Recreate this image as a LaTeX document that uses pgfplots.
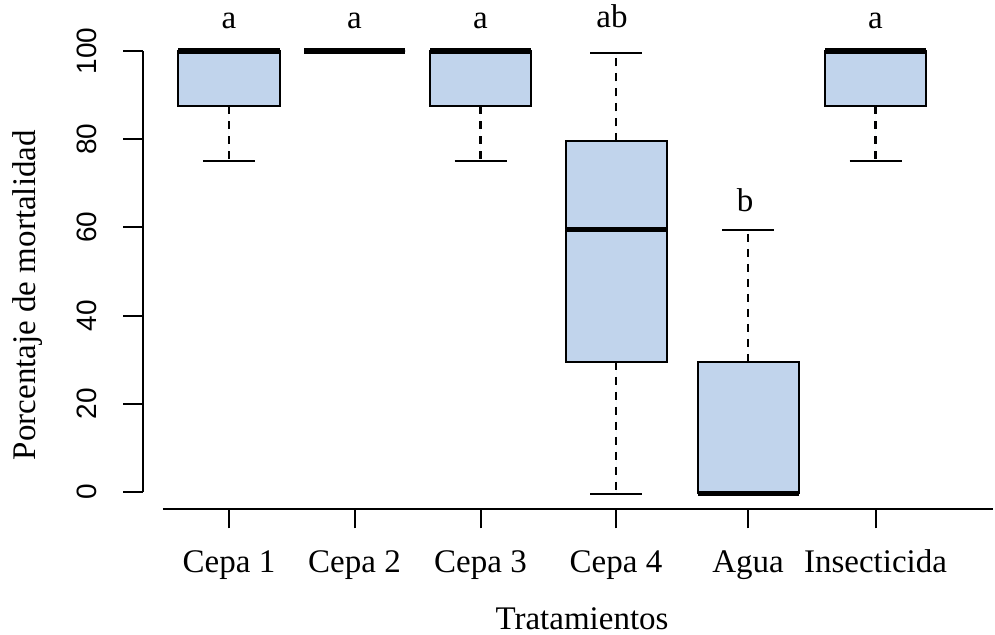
\documentclass[border=0pt]{standalone}
\usepackage{fontspec}
\setmainfont{Liberation Serif}
\newfontfamily\arialfont{Liberation Sans}
\usepackage{pgfplots}
\pgfplotsset{compat=1.18}
\usepgfplotslibrary{statistics}
\definecolor{boxfill}{RGB}{193,212,236}

\pgfplotsset{
  rbox/.style={
    draw=black, line width=1pt, fill=boxfill, solid, mark=none,
    boxplot/draw direction=y,
    boxplot/box extend=0.808,
    boxplot/whisker extend=0.416,
    boxplot/every median/.style={line width=2.6pt},
    boxplot/draw/lower whisker/.code={%
      \draw[line width=1.2pt, dash pattern=on 4pt off 3.5pt]
        (boxplot cs:\pgfplotsboxplotvalue{lower quartile}) -- (boxplot cs:\pgfplotsboxplotvalue{lower whisker});
      \draw[line width=1pt, solid]
        (boxplot whisker cs:\pgfplotsboxplotvalue{lower whisker},0) -- (boxplot whisker cs:\pgfplotsboxplotvalue{lower whisker},1);
    },
    boxplot/draw/upper whisker/.code={%
      \draw[line width=1.2pt, dash pattern=on 4pt off 3.5pt]
        (boxplot cs:\pgfplotsboxplotvalue{upper quartile}) -- (boxplot cs:\pgfplotsboxplotvalue{upper whisker});
      \draw[line width=1pt, solid]
        (boxplot whisker cs:\pgfplotsboxplotvalue{upper whisker},0) -- (boxplot whisker cs:\pgfplotsboxplotvalue{upper whisker},1);
    },
  },
}

\begin{document}
\begin{tikzpicture}
\path[use as bounding box] (-71.5pt,-63pt) rectangle (426pt,254.5pt);
\begin{axis}[
  at={(0pt,0pt)}, anchor=south west,
  scale only axis, width=425pt, height=229pt,
  xmin=-0.688, xmax=6.112, ymin=-3.85, ymax=100,
  clip=false,
  axis x line*=bottom, axis y line*=left,
  axis line style={-, line width=1pt, black},
  x axis line style={shorten <=10pt},
  y axis line style={shorten <=8.5pt},
  tick align=outside,
  major tick length=9.75pt,
  tick style={line width=1pt, black},
  xtick={0,1.004,2.012,3.096,4.152,5.172},
  xticklabels={Cepa 1,Cepa 2,Cepa 3,Cepa 4,Agua,Insecticida},
  ytick={0,20,40,60,80,100},
  yticklabels={0,20,40,60,80,100},
  xticklabel style={font=\fontsize{16.5}{19}\selectfont, anchor=base, yshift=-22pt},
  yticklabel style={font=\arialfont\fontsize{14}{16}\selectfont, rotate=90, anchor=base, yshift=13.5pt},
  xlabel={Tratamientos},
  ylabel={Porcentaje de mortalidad},
  xlabel style={font=\fontsize{16.5}{19}\selectfont, at={(axis description cs:0.5165,-0.264)}, anchor=base},
  ylabel style={font=\fontsize{16.5}{19}\selectfont, at={(axis description cs:-0.1259,0.467)}, anchor=base, rotate=0},
]
% Cepa 1
\addplot[rbox, boxplot prepared={draw position=0, lower whisker=75, lower quartile=87.5, median=100, upper quartile=100, upper whisker=100}] coordinates {};
% Cepa 2
\addplot[rbox, boxplot prepared={draw position=1.004, lower whisker=100, lower quartile=100, median=100, upper quartile=100, upper whisker=100}] coordinates {};
% Cepa 3
\addplot[rbox, boxplot prepared={draw position=2.012, lower whisker=75, lower quartile=87.5, median=100, upper quartile=100, upper whisker=100}] coordinates {};
% Cepa 4
\addplot[rbox, boxplot prepared={draw position=3.096, lower whisker=-0.4, lower quartile=29.5, median=59.5, upper quartile=79.5, upper whisker=99.5}] coordinates {};
% Agua
\addplot[rbox, boxplot prepared={draw position=4.152, lower whisker=-0.3, lower quartile=-0.3, median=-0.3, upper quartile=29.5, upper whisker=59.5}] coordinates {};
% Insecticida
\addplot[rbox, boxplot prepared={draw position=5.172, lower whisker=75, lower quartile=87.5, median=100, upper quartile=100, upper whisker=100}] coordinates {};

\begin{scope}[every node/.style={font=\fontsize{16.5}{19}\selectfont, anchor=base, inner sep=0pt}]
\node at (axis cs:0,105.2) {a};
\node at (axis cs:1.004,105.2) {a};
\node at (axis cs:2.012,105.2) {a};
\node at (axis cs:3.064,105.4) {ab};
\node at (axis cs:4.128,63.7) {b};
\node at (axis cs:5.172,105.2) {a};
\end{scope}
\end{axis}
\end{tikzpicture}
\end{document}
